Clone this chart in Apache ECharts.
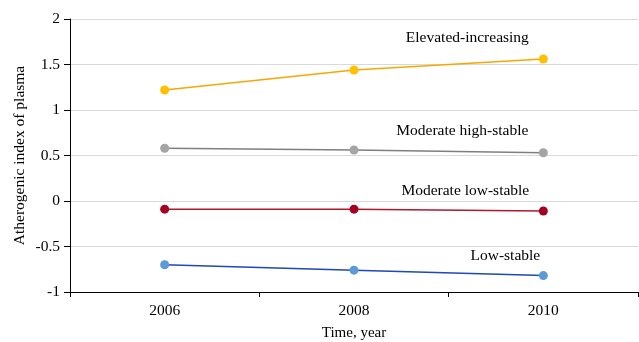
<!DOCTYPE html>
<html><head><meta charset="utf-8">
<script src="https://cdn.jsdelivr.net/npm/echarts@6/dist/echarts.min.js"></script>
<style>html,body{margin:0;padding:0;background:#fff}#c{width:639px;height:342px}</style>
</head><body><div id="c"></div>
<script>
const categories = ['2006', '2008', '2010'];
const elevatedIncreasing = [1.22, 1.44, 1.56];
const moderateHighStable = [0.58, 0.56, 0.53];
const moderateLowStable = [-0.09, -0.09, -0.11];
const lowStable = [-0.70, -0.76, -0.82];
const seriesNames = ['Elevated-increasing', 'Moderate high-stable', 'Moderate low-stable', 'Low-stable'];

const font = 'Liberation Serif, Times New Roman, serif';
function mk(name, data, lineColor, markColor, offset) {
  return {
    name: name, type: 'line', data: data.map((v, i) => i === data.length - 1 ? {
      value: v,
      label: { show: true, formatter: name, position: 'inside', offset: offset,
        color: '#000', fontFamily: font, fontSize: 15.5 }
    } : v),
    symbol: 'circle', symbolSize: 9,
    lineStyle: { color: lineColor, width: 1.5 },
    itemStyle: { color: markColor },
    emphasis: { disabled: true }, animation: false
  };
}
const chart = echarts.init(document.getElementById('c'));
chart.setOption({
  animation: false,
  grid: { left: 70, right: 1, top: 19, bottom: 50, containLabel: false, outerBoundsMode: 'none' },
  xAxis: {
    type: 'category', data: categories, boundaryGap: true,
    name: 'Time, year', nameLocation: 'middle', nameGap: 34,
    nameTextStyle: { color: '#000', fontFamily: font, fontSize: 15 },
    axisLine: { onZero: false, lineStyle: { color: '#000', width: 1 } },
    axisTick: { show: true, alignWithLabel: false, length: 5, lineStyle: { color: '#000' } },
    axisLabel: { color: '#000', fontFamily: font, fontSize: 15.5, margin: 11 }
  },
  yAxis: {
    type: 'value', min: -1, max: 2, interval: 0.5,
    name: 'Atherogenic index of plasma', nameLocation: 'middle', nameGap: 42,
    nameMoveOverlap: false,
    nameTextStyle: { color: '#000', fontFamily: font, fontSize: 15.5 },
    axisLine: { show: true, lineStyle: { color: '#000', width: 1 } },
    axisTick: { show: true, length: 6, lineStyle: { color: '#000' } },
    axisLabel: { color: '#000', fontFamily: font, fontSize: 15.5, margin: 10 },
    splitLine: { show: true, lineStyle: { color: '#d9d9d9', width: 1 } }
  },
  series: [
    mk(seriesNames[0], elevatedIncreasing, '#F7A800', '#FFC000', [-76, -21]),
    mk(seriesNames[1], moderateHighStable, '#7F7F7F', '#A5A5A5', [-81, -22]),
    mk(seriesNames[2], moderateLowStable, '#B0182C', '#A50021', [-78, -20]),
    mk(seriesNames[3], lowStable, '#1F48B8', '#5B9BD5', [-38, -20])
  ]
});
</script></body></html>
